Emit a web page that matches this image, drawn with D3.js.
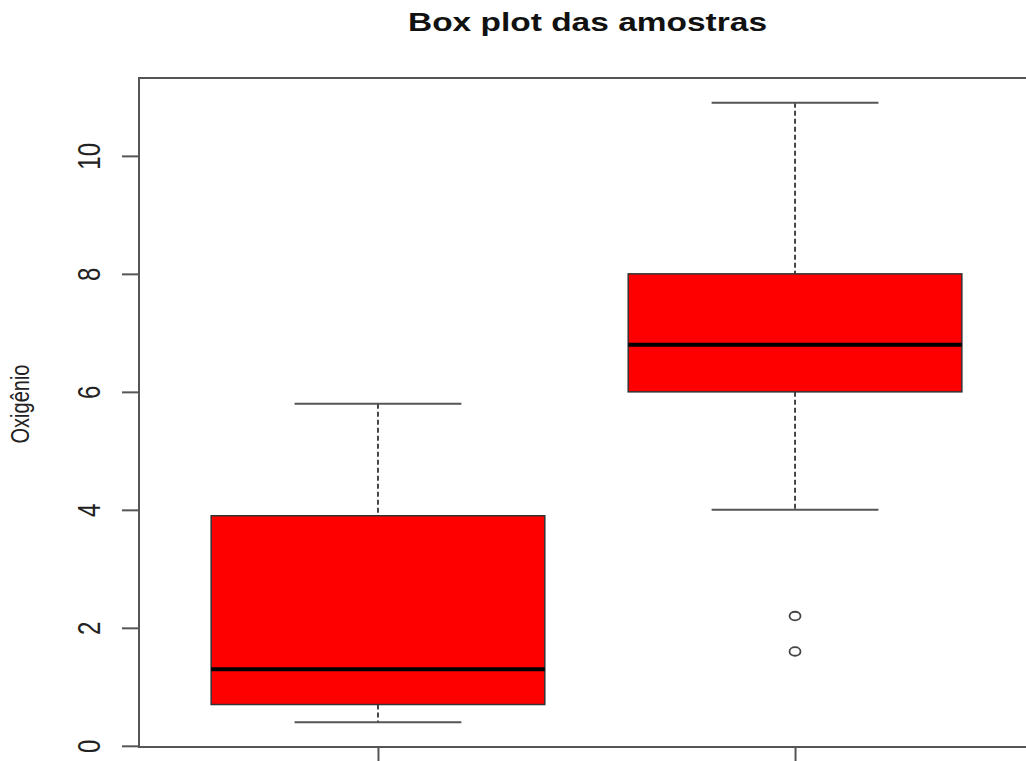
<!DOCTYPE html>
<head>
<meta charset="utf-8">
<script src="https://d3js.org/d3.v7.min.js"></script>
<style>
    body { margin: 0; background: #fff; }
    .canvas text { font-family: "Liberation Sans", Arial, sans-serif; fill: #222; }
    .canvas .title { font-weight: bold; font-size: 26px; text-anchor: middle; fill: #111; }
    .canvas .ylab { font-size: 20px; text-anchor: middle; }
    .canvas .axis path { display: none; }
    .canvas .axis line { stroke: #555; stroke-width: 2; }
    .canvas .axis text { font-size: 24px; text-anchor: middle; fill: #222; }
</style>
</head>
<body>
<div id="canvas"></div>
<script>
    // dados do boxplot
    var grupos = [1, 2];
    var limInf = [0.4, 4.0];
    var q1 = [0.7, 6.0];
    var mediana = [1.3, 6.8];
    var q3 = [3.9, 8.0];
    var limSup = [5.8, 10.9];
    var outliers = [[], [2.2, 1.6]];
    var yTicks = [0, 2, 4, 6, 8, 10];

    var width = 1026, height = 761;
    var esticar = 1.28; // a imagem original esta esticada na horizontal

    var svg = d3.select('#canvas')
        .append('svg')
        .attr('class', 'canvas')
        .attr('width', width)
        .attr('height', height);

    var x = d3.scaleLinear().domain([0.427, 2.573]).range([139, 1034]);
    var y = d3.scaleLinear().domain([-0.02, 11.32]).range([747, 78]);

    var larg = 0.8; // largura da caixa em unidades de x

    // caixas -------------------------------------------------------------
    var dados = grupos.map(function(g, i) {
        return {g: g, lo: limInf[i], q1: q1[i], med: mediana[i], q3: q3[i], hi: limSup[i], out: outliers[i]};
    });

    var bx = svg.append('g').selectAll('g')
        .data(dados)
        .enter()
        .append('g');

    // bigodes tracejados
    bx.append('line')
        .attr('x1', function(d) { return x(d.g); })
        .attr('x2', function(d) { return x(d.g); })
        .attr('y1', function(d) { return y(d.hi); })
        .attr('y2', function(d) { return y(d.q3); })
        .attr('stroke', '#333').attr('stroke-width', 1.8).attr('stroke-dasharray', '5,3');
    bx.append('line')
        .attr('x1', function(d) { return x(d.g); })
        .attr('x2', function(d) { return x(d.g); })
        .attr('y1', function(d) { return y(d.q1); })
        .attr('y2', function(d) { return y(d.lo); })
        .attr('stroke', '#333').attr('stroke-width', 1.8).attr('stroke-dasharray', '5,3');

    // extremos
    [['hi'], ['lo']].forEach(function(k) {
        bx.append('line')
            .attr('x1', function(d) { return x(d.g - larg / 4); })
            .attr('x2', function(d) { return x(d.g + larg / 4); })
            .attr('y1', function(d) { return y(d[k[0]]); })
            .attr('y2', function(d) { return y(d[k[0]]); })
            .attr('stroke', '#555').attr('stroke-width', 2);
    });

    bx.append('rect')
        .attr('x', function(d) { return x(d.g - larg / 2); })
        .attr('width', function(d) { return x(d.g + larg / 2) - x(d.g - larg / 2); })
        .attr('y', function(d) { return y(d.q3); })
        .attr('height', function(d) { return y(d.q1) - y(d.q3); })
        .attr('fill', '#ff0000')
        .attr('stroke', '#333')
        .attr('stroke-width', 1.5);

    bx.append('line')
        .attr('x1', function(d) { return x(d.g - larg / 2); })
        .attr('x2', function(d) { return x(d.g + larg / 2); })
        .attr('y1', function(d) { return y(d.med); })
        .attr('y2', function(d) { return y(d.med); })
        .attr('stroke', '#000').attr('stroke-width', 4);

    bx.selectAll('ellipse')
        .data(function(d) { return d.out.map(function(v) { return {g: d.g, v: v}; }); })
        .enter()
        .append('ellipse')
        .attr('cx', function(d) { return x(d.g); })
        .attr('cy', function(d) { return y(d.v); })
        .attr('rx', 5.5)
        .attr('ry', 4.3)
        .attr('fill', 'none')
        .attr('stroke', '#444')
        .attr('stroke-width', 1.8);

    // eixos --------------------------------------------------------------
    var eixoY = svg.append('g')
        .attr('class', 'axis')
        .attr('transform', 'translate(139,0)')
        .call(d3.axisLeft(y).tickValues(yTicks).tickSize(17).tickFormat(d3.format('d')));

    eixoY.selectAll('text')
        .attr('x', null)
        .attr('dy', null)
        .attr('transform', 'translate(-39,0) scale(' + esticar + ',1) rotate(-90)');

    svg.append('g')
        .attr('class', 'axis')
        .attr('transform', 'translate(0,747)')
        .call(d3.axisBottom(x).tickValues(grupos).tickSize(20).tickFormat(''));

    // moldura
    svg.append('rect')
        .attr('x', 139).attr('y', 78)
        .attr('width', 1034 - 139).attr('height', 747 - 78)
        .attr('fill', 'none')
        .attr('stroke', '#555')
        .attr('stroke-width', 2);

    // textos
    svg.append('text')
        .attr('class', 'title')
        .attr('x', 587.5).attr('y', 31)
        .attr('textLength', 359)
        .attr('lengthAdjust', 'spacingAndGlyphs')
        .text('Box plot das amostras');

    svg.append('text')
        .attr('class', 'ylab')
        .attr('transform', 'translate(29,404) scale(' + esticar + ',1) rotate(-90)')
        .text('Oxigênio');
</script>
</body>
